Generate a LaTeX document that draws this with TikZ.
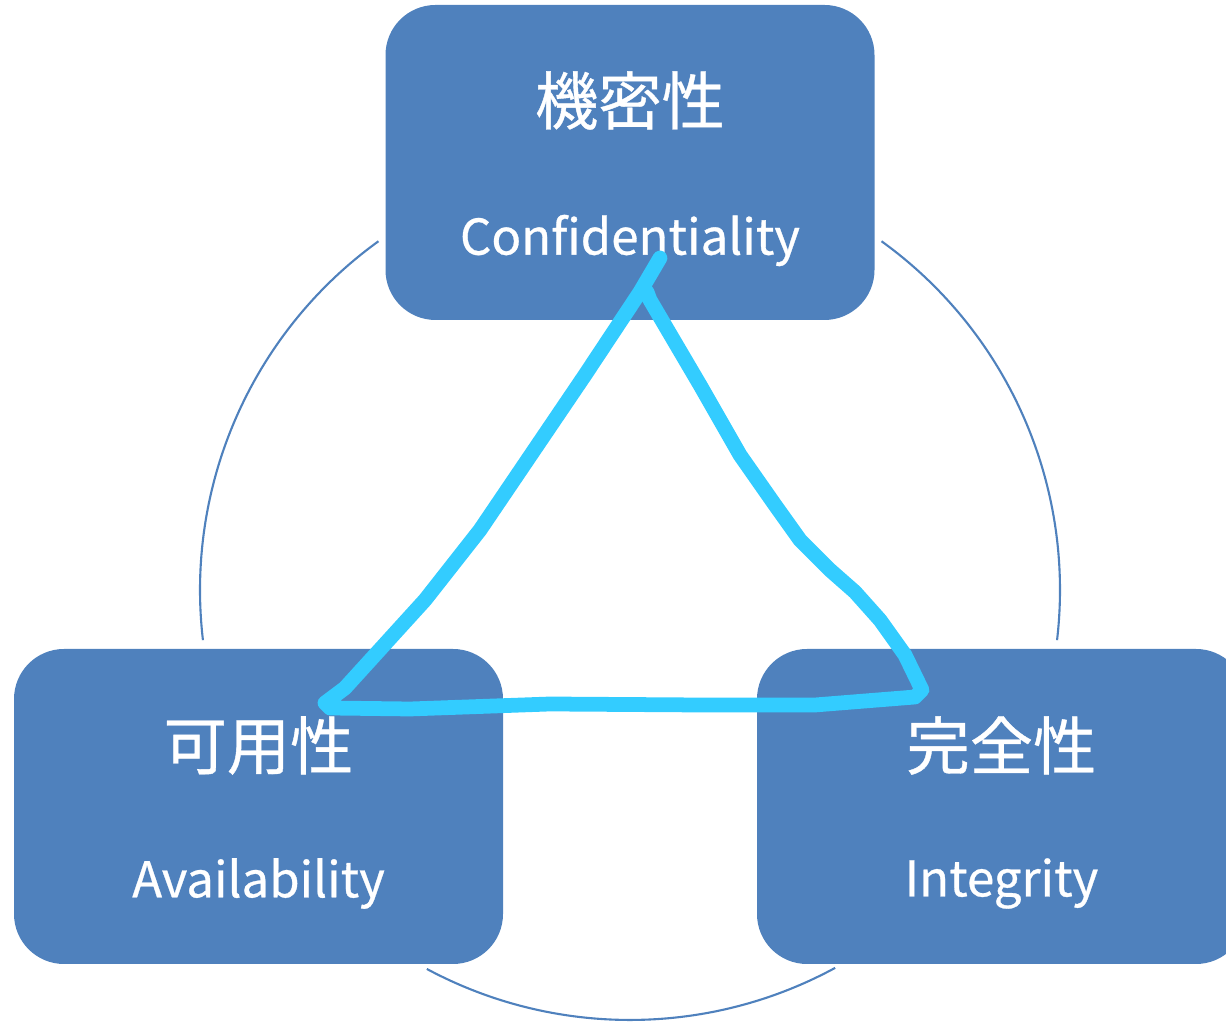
\documentclass[tikz,border=0pt]{standalone}
\usepackage{fontspec}
\setmainfont{Noto Sans CJK JP}[FakeBold=0.6]
\definecolor{boxblue}{HTML}{4F81BD}
\definecolor{penblue}{HTML}{33CCFF}

\begin{document}
\begin{tikzpicture}
  \tikzstyle{box}=[rectangle,rounded corners=0.5cm,fill=boxblue,minimum width=4.89cm,minimum height=3.15cm,inner sep=0pt]
  \tikzstyle{jp}=[text=white,font=\fontsize{18}{20}\selectfont,inner sep=0pt]
  \tikzstyle{en}=[text=white,font=\fontsize{14}{17}\selectfont,inner sep=0pt]
  \tikzstyle{ring}=[draw=boxblue,line width=0.6pt]
  \useasboundingbox (0,0) rectangle (12.26,-10.23);
  \coordinate (O) at (6.30,-5.90);
  % ring behind the boxes
  \draw[ring] ([shift={(125.8:4.3)}]O) arc[start angle=125.8,end angle=186.7,radius=4.3];
  \draw[ring] ([shift={(54.2:4.3)}]O) arc[start angle=54.2,end angle=-6.7,radius=4.3];
  \draw[ring] ([shift={(241.8:4.3)}]O) arc[start angle=241.8,end angle=298.5,radius=4.3];
  % the three boxes
  \node[box] (B_1) at (6.30,-1.625)  {};
  \node[box] (B_2) at (2.585,-8.065) {};
  \node[box] (B_3) at (10.015,-8.065) {};
  \node[jp] (J_1) at ([yshift=0.62cm]B_1.center) {機密性};
  \node[en] (E_1) at ([yshift=-0.78cm]B_1.center) {Confidentiality};
  \node[jp] (J_2) at ([yshift=0.61cm]B_2.center) {可用性};
  \node[en] (E_2) at ([yshift=-0.77cm]B_2.center) {Availability};
  \node[jp] (J_3) at ([yshift=0.61cm]B_3.center) {完全性};
  \node[en] (E_3) at ([yshift=-0.77cm]B_3.center) {Integrity};
  % hand drawn triangle
  \draw[penblue,line width=4.2pt,line cap=round,line join=round]
    (6.60,-2.58) -- (6.40,-2.92) -- (5.85,-3.75) -- (4.80,-5.30) -- (4.25,-6.00)
    -- (3.45,-6.88) -- (3.25,-7.03) -- (3.30,-7.08) -- (4.10,-7.09) -- (5.50,-7.04)
    -- (7.00,-7.05) -- (8.15,-7.05) -- (9.15,-6.97) -- (9.22,-6.90) -- (9.05,-6.55)
    -- (8.80,-6.20) -- (8.55,-5.92) -- (8.30,-5.70) -- (8.00,-5.40) -- (7.75,-5.05)
    -- (7.40,-4.55) -- (7.00,-3.85) -- (6.50,-3.00) -- (6.47,-2.92);
\end{tikzpicture}
\end{document}
